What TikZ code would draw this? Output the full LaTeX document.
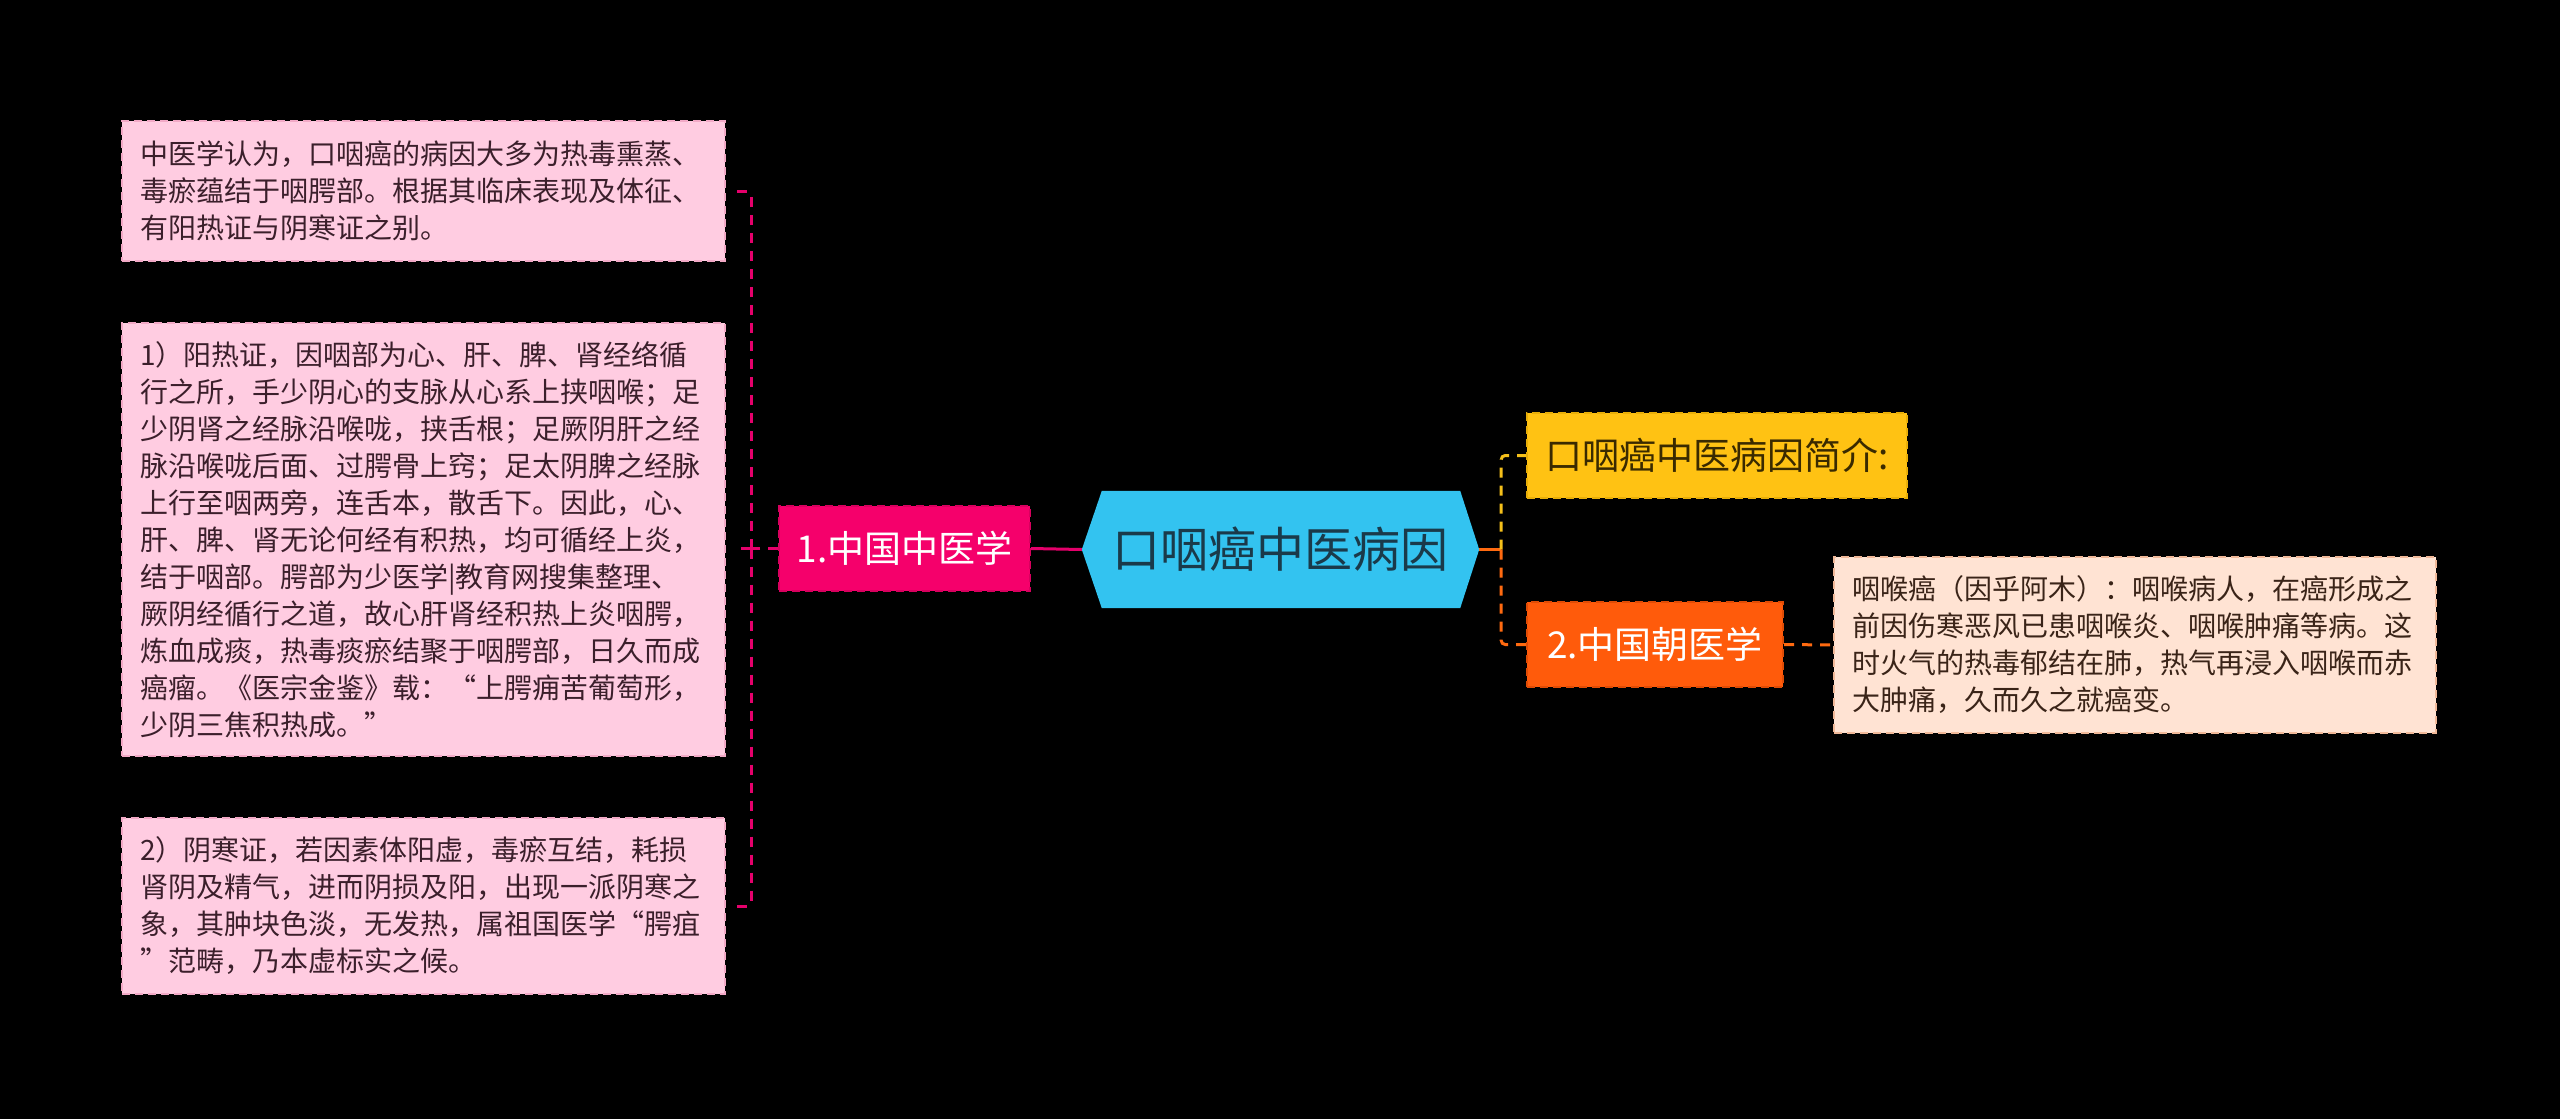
\documentclass[tikz,border=0pt]{standalone}
\usepackage{fontspec}
\setmainfont{Noto Sans CJK SC}
\usetikzlibrary{calc}
\definecolor{leaffill}{HTML}{FFCCE1}
\definecolor{leafdraw}{HTML}{F2A9C6}
\definecolor{leaftext}{HTML}{3B1F2B}
\definecolor{pinkfill}{HTML}{F5006B}
\definecolor{pinkdraw}{HTML}{D8005E}
\definecolor{lconncol}{HTML}{E5006B}
\definecolor{hexfill}{HTML}{33C3F0}
\definecolor{hextext}{HTML}{1A3A4A}
\definecolor{yelfill}{HTML}{FFC213}
\definecolor{yeldraw}{HTML}{E8AE08}
\definecolor{yeltext}{HTML}{3A2A00}
\definecolor{orgfill}{HTML}{FF5B0B}
\definecolor{orgdraw}{HTML}{E04C05}
\definecolor{orgconn}{HTML}{FF6A10}
\definecolor{yelconn}{HTML}{F5C01A}
\definecolor{detfill}{HTML}{FFE3D3}
\definecolor{detdraw}{HTML}{F0B898}
\definecolor{dettext}{HTML}{3A2418}
\tikzset{
  leafbox/.style={fill=leaffill, draw=leafdraw, line width=2pt, dash pattern=on 8pt off 5pt,
    minimum width=603pt, text width=567pt, inner xsep=18pt, inner ysep=0pt, align=left,
    text=leaftext, font=\fontsize{28}{37}\selectfont},
  detbox/.style={leafbox, fill=detfill, draw=detdraw, text=dettext, minimum width=602pt, text width=566pt},
  topic/.style={line width=2pt, dash pattern=on 8pt off 5pt, minimum height=85pt, inner sep=0pt,
    font=\fontsize{37}{44}\selectfont},
  lconn/.style={draw=lconncol, line width=3pt, dash pattern=on 10pt off 8pt},
  oconn/.style={draw=orgconn, line width=3pt, dash pattern=on 10pt off 8pt},
  yconn/.style={draw=yelconn, line width=3pt, dash pattern=on 10pt off 8pt}
}
\begin{document}
\begin{tikzpicture}[x=1pt,y=-1pt]
\fill[black] (0,0) rectangle (2560,1119);
\useasboundingbox (0,0) rectangle (2560,1119);

\node[leafbox, minimum height=140pt] (a) at (423.5,191) {中医学认为，口咽癌的病因大多为热毒熏蒸、\\毒瘀蕴结于咽腭部。根据其临床表现及体征、\\有阳热证与阴寒证之别。};
\node[leafbox, minimum height=433pt] (b) at (423.5,539.5) {1）阳热证，因咽部为心、肝、脾、肾经络循\\行之所，手少阴心的支脉从心系上挟咽喉；足\\少阴肾之经脉沿喉咙，挟舌根；足厥阴肝之经\\脉沿喉咙后面、过腭骨上窍；足太阴脾之经脉\\上行至咽两旁，连舌本，散舌下。因此，心、\\肝、脾、肾无论何经有积热，均可循经上炎，\\结于咽部。腭部为少医学|教育网搜集整理、\\厥阴经循行之道，故心肝肾经积热上炎咽腭，\\炼血成痰，热毒痰瘀结聚于咽腭部，日久而成\\癌瘤。《医宗金鉴》载：“上腭痈苦葡萄形，\\少阴三焦积热成。”};
\node[leafbox, minimum height=176pt] (c) at (423.5,906) {2）阴寒证，若因素体阳虚，毒瘀互结，耗损\\肾阴及精气，进而阴损及阳，出现一派阴寒之\\象，其肿块色淡，无发热，属祖国医学“腭疽\\”范畴，乃本虚标实之候。};

\node[topic, fill=pinkfill, draw=pinkdraw, text=white, minimum width=251pt] (p) at (904.5,548.5) {1.中国中医学};

\node[minimum width=397pt, minimum height=117pt, inner sep=0pt] (root) at (1280.5,549.5) {};
\fill[hexfill] (root.west) -- ($(root.north west)+(20,0)$) -- ($(root.north east)+(-19,0)$) -- (root.east)
  -- ($(root.south east)+(-19,0)$) -- ($(root.south west)+(20,0)$) -- cycle;
\node[text=hextext, font=\fontsize{48}{56}\selectfont, inner sep=0pt] at (root.center) {口咽癌中医病因};

\node[topic, fill=yelfill, draw=yeldraw, text=yeltext, minimum width=380pt] (y) at (1717,455.5) {口咽癌中医病因简介:};
\node[topic, fill=orgfill, draw=orgdraw, text=white, minimum width=256pt] (o) at (1655,644.5) {2.中国朝医学};
\node[detbox, minimum height=176pt] (d) at (2135,645) {咽喉癌（因乎阿木）：咽喉病人，在癌形成之\\前因伤寒恶风已患咽喉炎、咽喉肿痛等病。这\\时火气的热毒郁结在肺，热气再浸入咽喉而赤\\大肿痛，久而久之就癌变。};

% left connectors
\draw[draw=lconncol, line width=3pt] (root.west) -- (p.east);
\draw[lconn] (p.west) -- ++(-27,0) coordinate (lj);
\draw[lconn, rounded corners=4pt] (lj) |- ($(a.east)+(8,0)$);
\draw[lconn, rounded corners=4pt] (lj) |- ($(c.east)+(8,0)$);
\draw[lconn] (lj) -- ($(lj -| b.east)+(8,0)$);

% right connectors
\draw[draw=orgconn, line width=3pt] (root.east) -- ++(22,0) coordinate (rj);
\draw[yconn, rounded corners=4pt] (rj) |- (y.west);
\draw[oconn, rounded corners=4pt] (rj) |- (o.west);
\draw[oconn] (o.east) -- (d.west);
\end{tikzpicture}
\end{document}
